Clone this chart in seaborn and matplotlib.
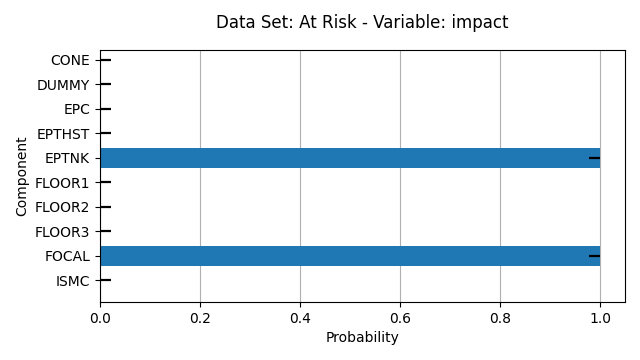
import numpy as np
import matplotlib
matplotlib.use("Agg")
import matplotlib.pyplot as plt
import seaborn as sns

# data
components = ["CONE", "DUMMY", "EPC", "EPTHST", "EPTNK",
              "FLOOR1", "FLOOR2", "FLOOR3", "FOCAL", "ISMC"]
probability = [0, 0, 0, 0, 1, 0, 0, 0, 1, 0]
err_low = [0, 0, 0, 0, 0.022, 0, 0, 0, 0.022, 0]
err_high = [0.022, 0.022, 0.022, 0.022, 0, 0.022, 0.022, 0.022, 0, 0.022]

fig = plt.figure(figsize=(6.4, 3.6), dpi=100)
ax = fig.add_axes([0.156, 0.161, 0.821, 0.700])

sns.barplot(x=probability, y=components, orient="h", color="#1f77b4",
            saturation=1, errorbar=None, width=0.8, ax=ax)

# error marks
ax.errorbar(probability, np.arange(len(components)), xerr=[err_low, err_high],
            fmt="none", ecolor="black", elinewidth=1.6, zorder=3)

ax.set_xlim(0, 1.05)
ax.set_ylim(9.88, -0.4)
ax.set_xticks([0.0, 0.2, 0.4, 0.6, 0.8, 1.0])
ax.grid(axis="x", color="#b0b0b0", linewidth=0.8)
ax.grid(axis="y", visible=False)
ax.set_axisbelow(True)
for s in ax.spines.values():
    s.set_visible(True)
    s.set_color("black")

ax.set_title("Data Set: At Risk - Variable: impact", fontsize=12, pad=16)
ax.set_xlabel("Probability", fontsize=10)
ax.set_ylabel("Component", fontsize=10)
ax.tick_params(labelsize=10)

fig.savefig("out.png", dpi=100)
